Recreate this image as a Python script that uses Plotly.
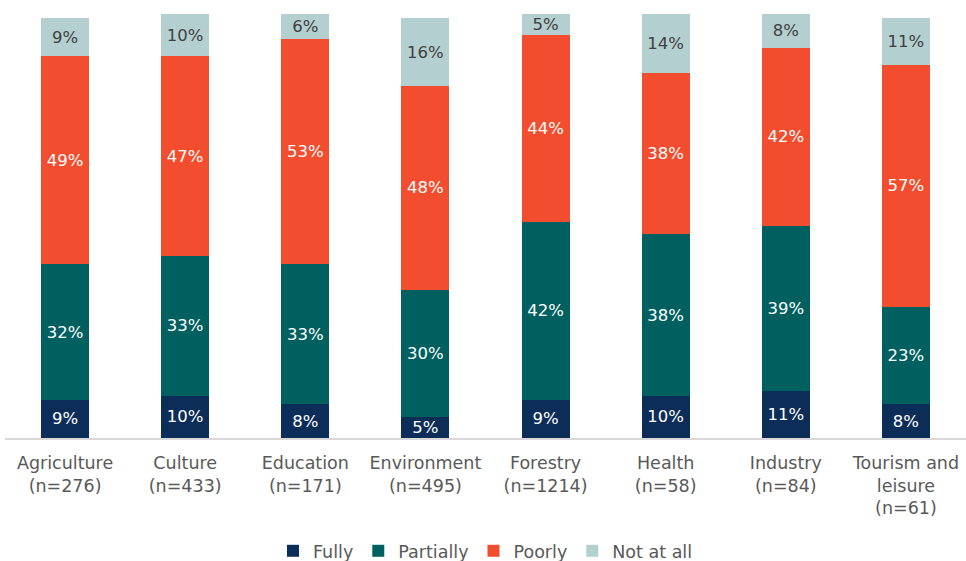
import plotly.graph_objects as go

categories = ["Agriculture<br>(n=276)", "Culture<br>(n=433)", "Education<br>(n=171)",
              "Environment<br>(n=495)", "Forestry<br>(n=1214)", "Health<br>(n=58)",
              "Industry<br>(n=84)", "Tourism and<br>leisure<br>(n=61)"]
fully = [9, 10, 8, 5, 9, 10, 11, 8]
partially = [32, 33, 33, 30, 42, 38, 39, 23]
poorly = [49, 47, 53, 48, 44, 38, 42, 57]
not_at_all = [9, 10, 6, 16, 5, 14, 8, 11]

FONT = "DejaVu Sans, sans-serif"

series = [
    ("Fully", fully, "#0c2d57", "white"),
    ("Partially", partially, "#005f5f", "white"),
    ("Poorly", poorly, "#f24d2e", "white"),
    ("Not at all", not_at_all, "#b4cfcf", "#404040"),
]

fig = go.Figure()
for name, vals, color, tcolor in series:
    fig.add_trace(go.Bar(
        x=categories, y=vals, name=name,
        marker=dict(color=color, line=dict(width=0)),
        text=[f"{v}%" for v in vals], textposition="inside",
        insidetextanchor="middle", constraintext="none",
        textfont=dict(color=tcolor, size=16.5, family=FONT),
    ))

fig.update_layout(
    barmode="stack", bargap=0.6,
    width=966, height=561,
    margin=dict(l=5, r=0, t=14, b=123, autoexpand=False),
    plot_bgcolor="white", paper_bgcolor="white",
    font=dict(family=FONT, color="#595959", size=17),
    xaxis=dict(showline=True, linecolor="#d9d9d9", linewidth=1.5, ticks="",
               ticklabelstandoff=8, automargin=False,
               tickfont=dict(size=17.5, color="#595959", family=FONT)),
    yaxis=dict(range=[0, 100], visible=False, showgrid=False),
    legend=dict(orientation="h", x=0.5, xanchor="center",
                yref="container", y=0.018, yanchor="middle",
                font=dict(size=17.5, color="#595959", family=FONT), traceorder="normal",
                itemwidth=30),
    showlegend=True,
)

fig.write_html("out.html")
